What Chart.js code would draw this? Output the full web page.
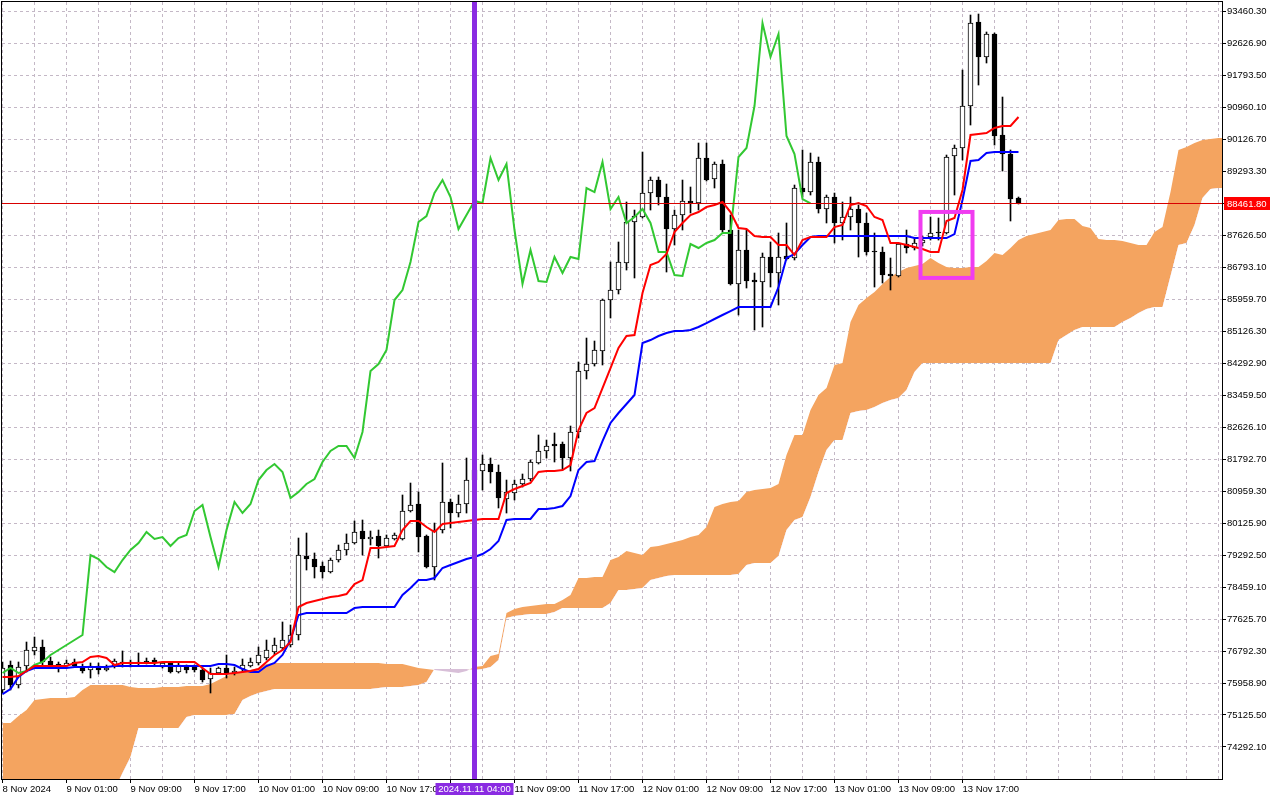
<!DOCTYPE html>
<html>
<head>
<meta charset="utf-8">
<script src="https://cdn.jsdelivr.net/npm/chart.js@4.4.1/dist/chart.umd.min.js"></script>
<style>
  body { margin: 0; background: #fff; }
  canvas { display: block; }
</style>
</head>
<body>
<canvas id="chart" width="1280" height="800"></canvas>
<script>
// BTCUSD H1, Ichimoku (9, 26, 52) - bars counted from 8 Nov 2024 17:00
const timeLabels = ['8 Nov 2024', '9 Nov 01:00', '9 Nov 09:00', '9 Nov 17:00', '10 Nov 01:00', '10 Nov 09:00',
  '10 Nov 17:00', '11 Nov 01:00', '11 Nov 09:00', '11 Nov 17:00', '12 Nov 01:00', '12 Nov 09:00',
  '12 Nov 17:00', '13 Nov 01:00', '13 Nov 09:00', '13 Nov 17:00']

const priceTicks = [74292.1, 75125.5, 75958.9, 76792.3, 77625.7, 78459.1, 79292.5, 80125.9, 80959.3, 81792.7,
  82626.1, 83459.5, 84292.9, 85126.3, 85959.7, 86793.1, 87626.5, 88459.9, 89293.3, 90126.7, 90960.1,
  91793.5, 92626.9, 93460.3]

const open = [75777, 76429, 75907, 76402, 76794, 76898, 76533, 76455, 76402, 76507,
  76376, 76298, 76402, 76298, 76402, 76507, 76507, 76481, 76533, 76559,
  76376, 76481, 76246, 76376, 76376, 76298, 76063, 76220, 76350, 76220,
  76324, 76402, 76481, 76611, 76768, 76872, 76950, 77211, 79270, 79192,
  79010, 78853, 79166, 79427, 79609, 79922, 79713, 79792, 79531, 79713,
  79713, 80443, 80626, 79792, 78984, 79948, 80678, 80391, 80626, 81251,
  81486, 81669, 81460, 80756, 80912, 81147, 81278, 81695, 82008, 82190,
  82190, 81825, 82503, 84093, 84276, 84615, 85944, 86205, 86909, 87978,
  88108, 88733, 89072, 88629, 87795, 88160, 88525, 88473, 89646, 89099,
  89490, 87769, 86361, 87248, 86465, 86413, 87065, 86648, 87091, 87039,
  88864, 88759, 89542, 88317, 88629, 87952, 88108, 88317, 87952, 87222,
  87196, 86622, 86570, 87404, 87300, 87430, 87587, 87717, 87691, 89698,
  89907, 91002, 93191, 92279, 92879, 90246, 89750, 88603]

const high = [76507, 76533, 76507, 77028, 77158, 77080, 76637, 76507, 76559, 76585,
  76455, 76481, 76481, 76429, 76585, 76794, 76559, 76742, 76611, 76611,
  76507, 76507, 76481, 76429, 76429, 76350, 76350, 76376, 76689, 76376,
  76585, 76611, 76898, 77080, 77132, 77550, 77472, 79739, 79870, 79349,
  79114, 79218, 79557, 79844, 80183, 80209, 79922, 79948, 79818, 79870,
  80861, 81173, 80939, 79818, 80130, 81695, 80756, 80861, 81825, 81721,
  81904, 81825, 81643, 81251, 81251, 81408, 81773, 82425, 82294, 82477,
  82242, 82659, 84328, 84953, 84875, 85970, 86935, 87456, 88499, 88290,
  89802, 89151, 89151, 88968, 88290, 89072, 88890, 90037, 90037, 89542,
  89594, 88160, 87769, 87769, 86648, 87169, 87456, 87691, 87952, 88942,
  89855, 89776, 89672, 88681, 88733, 88499, 88629, 88421, 88212, 87691,
  87326, 87039, 87430, 87769, 87560, 87613, 88108, 88082, 89724, 89985,
  91940, 93374, 93400, 92931, 92905, 91236, 89855, 88629]

const low = [75699, 75777, 75829, 76246, 76689, 76376, 76376, 76246, 76350, 76376,
  76220, 76090, 76194, 76272, 76350, 76376, 76376, 76429, 76455, 76429,
  76350, 76220, 76220, 76220, 76246, 75985, 75699, 76194, 76090, 76168,
  76246, 76376, 76429, 76559, 76689, 76820, 76898, 77080, 78905, 78697,
  78697, 78827, 79114, 79296, 79583, 79296, 79557, 79218, 79505, 79687,
  79687, 80417, 79375, 78958, 78644, 79870, 80000, 80287, 80391, 81121,
  80991, 81173, 80522, 80391, 80730, 81069, 81225, 81669, 81825, 81721,
  81512, 81486, 82346, 83885, 84223, 84250, 85475, 86101, 86726, 86518,
  88082, 88290, 88421, 86674, 87378, 87769, 88212, 88290, 89046, 88864,
  87717, 86335, 85553, 86257, 85162, 85240, 86283, 85814, 86987, 86987,
  88629, 88681, 88212, 87952, 87430, 87508, 87769, 87065, 87117, 86283,
  86387, 86205, 86544, 87169, 87248, 87352, 87508, 87508, 87665, 88681,
  89594, 90506, 91549, 92123, 89985, 89307, 88004, 88447]

const close = [76350, 75907, 76376, 76820, 76898, 76507, 76429, 76376, 76481, 76402,
  76272, 76402, 76298, 76350, 76533, 76481, 76455, 76507, 76507, 76481,
  76481, 76246, 76429, 76298, 76298, 76037, 76220, 76350, 76220, 76272,
  76429, 76507, 76689, 76820, 76950, 77080, 77211, 79296, 79192, 78984,
  78853, 79166, 79427, 79609, 79896, 79713, 79765, 79531, 79739, 79818,
  80443, 80600, 79765, 78984, 79948, 80678, 80391, 80626, 81251, 81512,
  81669, 81460, 80782, 80939, 81147, 81278, 81721, 82008, 82138, 82138,
  81825, 82503, 84093, 84276, 84641, 85944, 86205, 86935, 87978, 88134,
  88733, 89072, 88629, 87795, 88160, 88525, 88473, 89646, 89072, 89490,
  87769, 86361, 87248, 86439, 86413, 87065, 86648, 87065, 87013, 88864,
  88759, 89542, 88317, 88629, 87952, 88108, 88317, 87952, 87196, 87196,
  86596, 86570, 87404, 87300, 87430, 87508, 87691, 87691, 89672, 89907,
  91002, 93165, 92279, 92879, 90220, 89750, 88577, 88461.8]

const tenkan = [76116, 76116, 76142, 76272, 76402, 76402, 76402, 76402, 76402, 76481,
  76507, 76637, 76663, 76611, 76428, 76481, 76481, 76481, 76481, 76481,
  76507, 76507, 76507, 76507, 76507, 76350, 76194, 76194, 76194, 76220,
  76246, 76272, 76324, 76507, 76689, 76820, 77028, 77941, 78045, 78097,
  78149, 78201, 78227, 78279, 78540, 78644, 79479, 79479, 79505, 79531,
  79948, 80183, 80183, 80026, 79896, 80104, 80130, 80157, 80183, 80209,
  80235, 80235, 80235, 80912, 81017, 81095, 81173, 81460, 81486, 81486,
  81512, 81642, 82555, 82998, 83128, 83650, 84171, 84693, 85005, 85031,
  86126, 86856, 86935, 87143, 87717, 87951, 88160, 88238, 88368, 88421,
  88499, 88238, 87821, 87795, 87612, 87586, 87586, 87378, 87378, 87117,
  87508, 87586, 87586, 87586, 87847, 87899, 88421, 88473, 88395, 88108,
  88030, 87430, 87430, 87378, 87326, 87273, 87195, 87195, 88004, 88082,
  88812, 90246, 90272, 90298, 90428, 90480, 90480, 90715]

const kijun = [75672, 75803, 76116, 76272, 76350, 76350, 76350, 76350, 76350, 76376,
  76376, 76376, 76376, 76376, 76402, 76402, 76402, 76402, 76402, 76402,
  76402, 76402, 76402, 76402, 76402, 76402, 76402, 76455, 76455, 76428,
  76324, 76246, 76246, 76402, 76481, 76689, 77080, 77732, 77784, 77784,
  77784, 77784, 77784, 77784, 77914, 77941, 77941, 77941, 77941, 77941,
  78253, 78436, 78644, 78644, 78697, 78958, 79036, 79114, 79192, 79244,
  79322, 79453, 79661, 80209, 80235, 80235, 80235, 80495, 80495, 80522,
  80574, 80834, 81512, 81721, 81747, 82268, 82738, 82998, 83233, 83467,
  84823, 84901, 85005, 85084, 85136, 85136, 85162, 85240, 85344, 85449,
  85553, 85657, 85762, 85762, 85762, 85762, 85762, 86283, 87039, 87143,
  87378, 87586, 87612, 87612, 87612, 87612, 87612, 87612, 87612, 87612,
  87612, 87612, 87612, 87612, 87560, 87560, 87560, 87560, 87560, 87664,
  88551, 89568, 89594, 89776, 89802, 89802, 89802, 89802]

// senkou spans run 26 bars past the last candle
const senkouA = [74916, 74916, 75099, 75255, 75516, 75542, 75568, 75568, 75568, 75594,
  75777, 75907, 75907, 75907, 75907, 75907, 75855, 75829, 75829, 75829,
  75855, 75855, 75855, 75881, 75881, 75881, 75933, 76037, 76142, 76220,
  76246, 76298, 76350, 76455, 76481, 76481, 76481, 76481, 76481, 76481,
  76481, 76481, 76481, 76481, 76481, 76481, 76481, 76481, 76455, 76455,
  76455, 76402, 76350, 76324, 76298, 76272, 76246, 76220, 76272, 76376,
  76402, 76663, 76716, 77784, 77888, 77941, 77967, 77993, 78019, 78019,
  78123, 78253, 78697, 78697, 78723, 78723, 79166, 79244, 79401, 79349,
  79296, 79505, 79531, 79583, 79635, 79687, 79765, 79818, 80026, 80548,
  80626, 80678, 80704, 80939, 80991, 81017, 81043, 81147, 81904, 82425,
  82425, 83076, 83467, 83650, 84250, 84302, 85370, 85814, 85996, 86152,
  86361, 86544, 86674, 86778, 86830, 86883, 87039, 86909, 86804, 86778,
  86778, 86804, 86804, 86961, 87169, 87117, 87300, 87508, 87612, 87664,
  87717, 87769, 88030, 88056, 88056, 87873, 87821, 87534, 87508, 87508,
  87482, 87430, 87378, 87378, 87717, 87847, 88760, 89855, 89933, 90037,
  90115, 90141, 90167, 90167]

const senkouB = [72909, 72909, 72909, 72909, 72909, 72909, 72909, 72909, 72909, 72909,
  72909, 72909, 72909, 72909, 73170, 73613, 74030, 74786, 74786, 74786,
  74786, 74786, 74786, 75073, 75125, 75125, 75125, 75125, 75125, 75151,
  75516, 75620, 75699, 75751, 75803, 75803, 75803, 75803, 75803, 75803,
  75803, 75803, 75803, 75803, 75803, 75803, 75803, 75829, 75855, 75855,
  75855, 75881, 75907, 75985, 76324, 76324, 76324, 76324, 76324, 76298,
  76324, 76376, 76559, 77654, 77706, 77732, 77758, 77758, 77758, 77810,
  77914, 77914, 77914, 77914, 77914, 77914, 78045, 78384, 78384, 78410,
  78436, 78644, 78697, 78749, 78775, 78775, 78775, 78775, 78775, 78775,
  78775, 78775, 78801, 79036, 79088, 79088, 79088, 79270, 79948, 80209,
  80287, 80808, 81460, 82034, 82294, 82294, 82998, 83050, 83076, 83154,
  83259, 83337, 83389, 83598, 84067, 84302, 84302, 84302, 84302, 84302,
  84302, 84302, 84302, 84302, 84302, 84302, 84302, 84302, 84302, 84302,
  84302, 84302, 84901, 85031, 85162, 85240, 85240, 85240, 85240, 85240,
  85370, 85475, 85605, 85709, 85762, 85762, 86570, 87378, 87430, 87899,
  88603, 88838, 88864, 88864]

const lastPrice = 88461.8
const markerBar = 59
const markerText = '2024.11.11 04:00'
const zone = { from: 114.75, to: 121.25, low: 86520, high: 88240 }

// chikou span = close plotted 26 bars back
const chikou = close.slice(26)

const pts = arr => arr.map((v, i) => ({ x: i, y: v }))
const FONT = { family: 'Liberation Sans', size: 9.5 }
const GRID = '#c4b8c6'

const noPad = s => { s.paddingTop = 0; s.paddingBottom = 0; s.paddingLeft = 0; s.paddingRight = 0 }

const overlay = {
  id: 'overlay',
  afterDatasetsDraw(chart) {
    const { ctx, chartArea: a, scales: { x, y } } = chart
    ctx.save()
    ctx.beginPath()
    ctx.rect(a.left, a.top, a.right - a.left, a.bottom - a.top)
    ctx.clip()
    // bid line
    const py = Math.round(y.getPixelForValue(lastPrice)) + 0.5
    ctx.strokeStyle = '#d80000'
    ctx.lineWidth = 1
    ctx.beginPath()
    ctx.moveTo(a.left, py)
    ctx.lineTo(a.right, py)
    ctx.stroke()
    // vertical marker
    const mx = x.getPixelForValue(markerBar)
    ctx.fillStyle = '#8a2be2'
    ctx.fillRect(mx - 2.5, a.top, 5, a.bottom - a.top)
    // rectangle
    const x1 = x.getPixelForValue(zone.from), x2 = x.getPixelForValue(zone.to)
    const y1 = y.getPixelForValue(zone.high), y2 = y.getPixelForValue(zone.low)
    ctx.strokeStyle = '#f03cf0'
    ctx.lineWidth = 4
    ctx.strokeRect(x1, y1, x2 - x1, y2 - y1)
    ctx.restore()
  },
  afterDraw(chart) {
    const { ctx, chartArea: a, scales: { x, y } } = chart
    ctx.save()
    ctx.strokeStyle = '#000'
    ctx.lineWidth = 1
    ctx.strokeRect(a.left - 0.5, a.top - 0.5, a.right - a.left + 1, a.bottom - a.top + 1)
    ctx.font = FONT.size + 'px ' + FONT.family
    ctx.textBaseline = 'middle'
    // price label
    const py = Math.round(y.getPixelForValue(lastPrice))
    ctx.fillStyle = '#ff0000'
    ctx.fillRect(a.right + 2, py - 6, 46, 13)
    ctx.fillStyle = '#fff'
    ctx.textAlign = 'left'
    ctx.fillText(lastPrice.toFixed(2), a.right + 5, py + 1)
    // time label of the marker
    const mx = x.getPixelForValue(markerBar)
    ctx.fillStyle = '#8a2be2'
    ctx.fillRect(mx - 39, a.bottom + 4, 78, 12)
    ctx.fillStyle = '#fff'
    ctx.textAlign = 'center'
    ctx.fillText(markerText, mx, a.bottom + 10)
    ctx.restore()
  }
}

const wickBars = open.map((o, i) => ({ x: i, y: [low[i], high[i]] }))
const bodyBars = open.map((o, i) => ({ x: i, y: [o, close[i]] }))
const isUp = i => close[i] >= open[i]

new Chart(document.getElementById('chart'), {
  type: 'bar',
  data: {
    datasets: [
      {
        type: 'line', data: pts(senkouA), order: 10,
        borderColor: 'rgba(0,0,0,0)', pointRadius: 0, tension: 0,
        fill: { target: '+1', above: '#f4a460', below: '#d8bfd8' }
      },
      {
        type: 'line', data: pts(senkouB), order: 9,
        borderColor: 'rgba(0,0,0,0)', pointRadius: 0, tension: 0, fill: false
      },
      {
        data: wickBars, order: 6, grouped: false,
        barThickness: 1, maxBarThickness: 1,
        backgroundColor: '#000', borderWidth: 0
      },
      {
        data: bodyBars, order: 5, grouped: false,
        barThickness: 5, maxBarThickness: 5,
        backgroundColor: c => isUp(c.dataIndex) ? '#fff' : '#000',
        borderColor: '#000', borderWidth: 1, borderSkipped: false
      },
      {
        type: 'line', data: pts(chikou), order: 3,
        borderColor: '#32c832', borderWidth: 2, pointRadius: 0, tension: 0, fill: false
      },
      {
        type: 'line', data: pts(kijun), order: 2,
        borderColor: '#0000ff', borderWidth: 2, pointRadius: 0, tension: 0, fill: false
      },
      {
        type: 'line', data: pts(tenkan), order: 1,
        borderColor: '#ff0000', borderWidth: 2, pointRadius: 0, tension: 0, fill: false
      }
    ]
  },
  options: {
    responsive: false,
    animation: false,
    devicePixelRatio: 1,
    layout: { padding: { left: 2, top: 2, right: 0, bottom: 0 } },
    plugins: { legend: { display: false }, tooltip: { enabled: false } },
    scales: {
      x: {
        type: 'linear',
        min: -0.0625,
        max: 152.4375,
        offset: false,
        afterBuildTicks: s => {
          const t = []
          for (let v = 0; v <= 152; v += 4) t.push({ value: v })
          s.ticks = t
        },
        afterFit: s => { s.height = 21; noPad(s) },
        grid: {
          offset: false,
          color: GRID,
          tickLength: 4,
          tickColor: c => (c.tick && c.tick.value % 8 === 0 && c.tick.value <= 127) ? '#000' : 'rgba(0,0,0,0)'
        },
        border: { display: false, dash: [3, 3] },
        ticks: {
          autoSkip: false,
          maxRotation: 0,
          align: 'start',
          padding: 1,
          color: '#000',
          font: FONT,
          callback: v => (v % 8 === 0 && v <= 127) ? timeLabels[v / 8] : ''
        }
      },
      y: {
        position: 'right',
        min: 73456.8,
        max: 93713.2,
        afterBuildTicks: s => { s.ticks = priceTicks.map(v => ({ value: v })) },
        afterFit: s => { s.width = 58; noPad(s) },
        grid: { color: GRID, tickLength: 4, tickColor: '#000' },
        border: { display: false, dash: [3, 3] },
        ticks: {
          autoSkip: false,
          padding: 1,
          color: '#000',
          font: FONT,
          callback: v => Math.abs(v - 88459.9) < 1 ? '' : v.toFixed(2)
        }
      }
    }
  },
  plugins: [overlay]
})
</script>
</body>
</html>
